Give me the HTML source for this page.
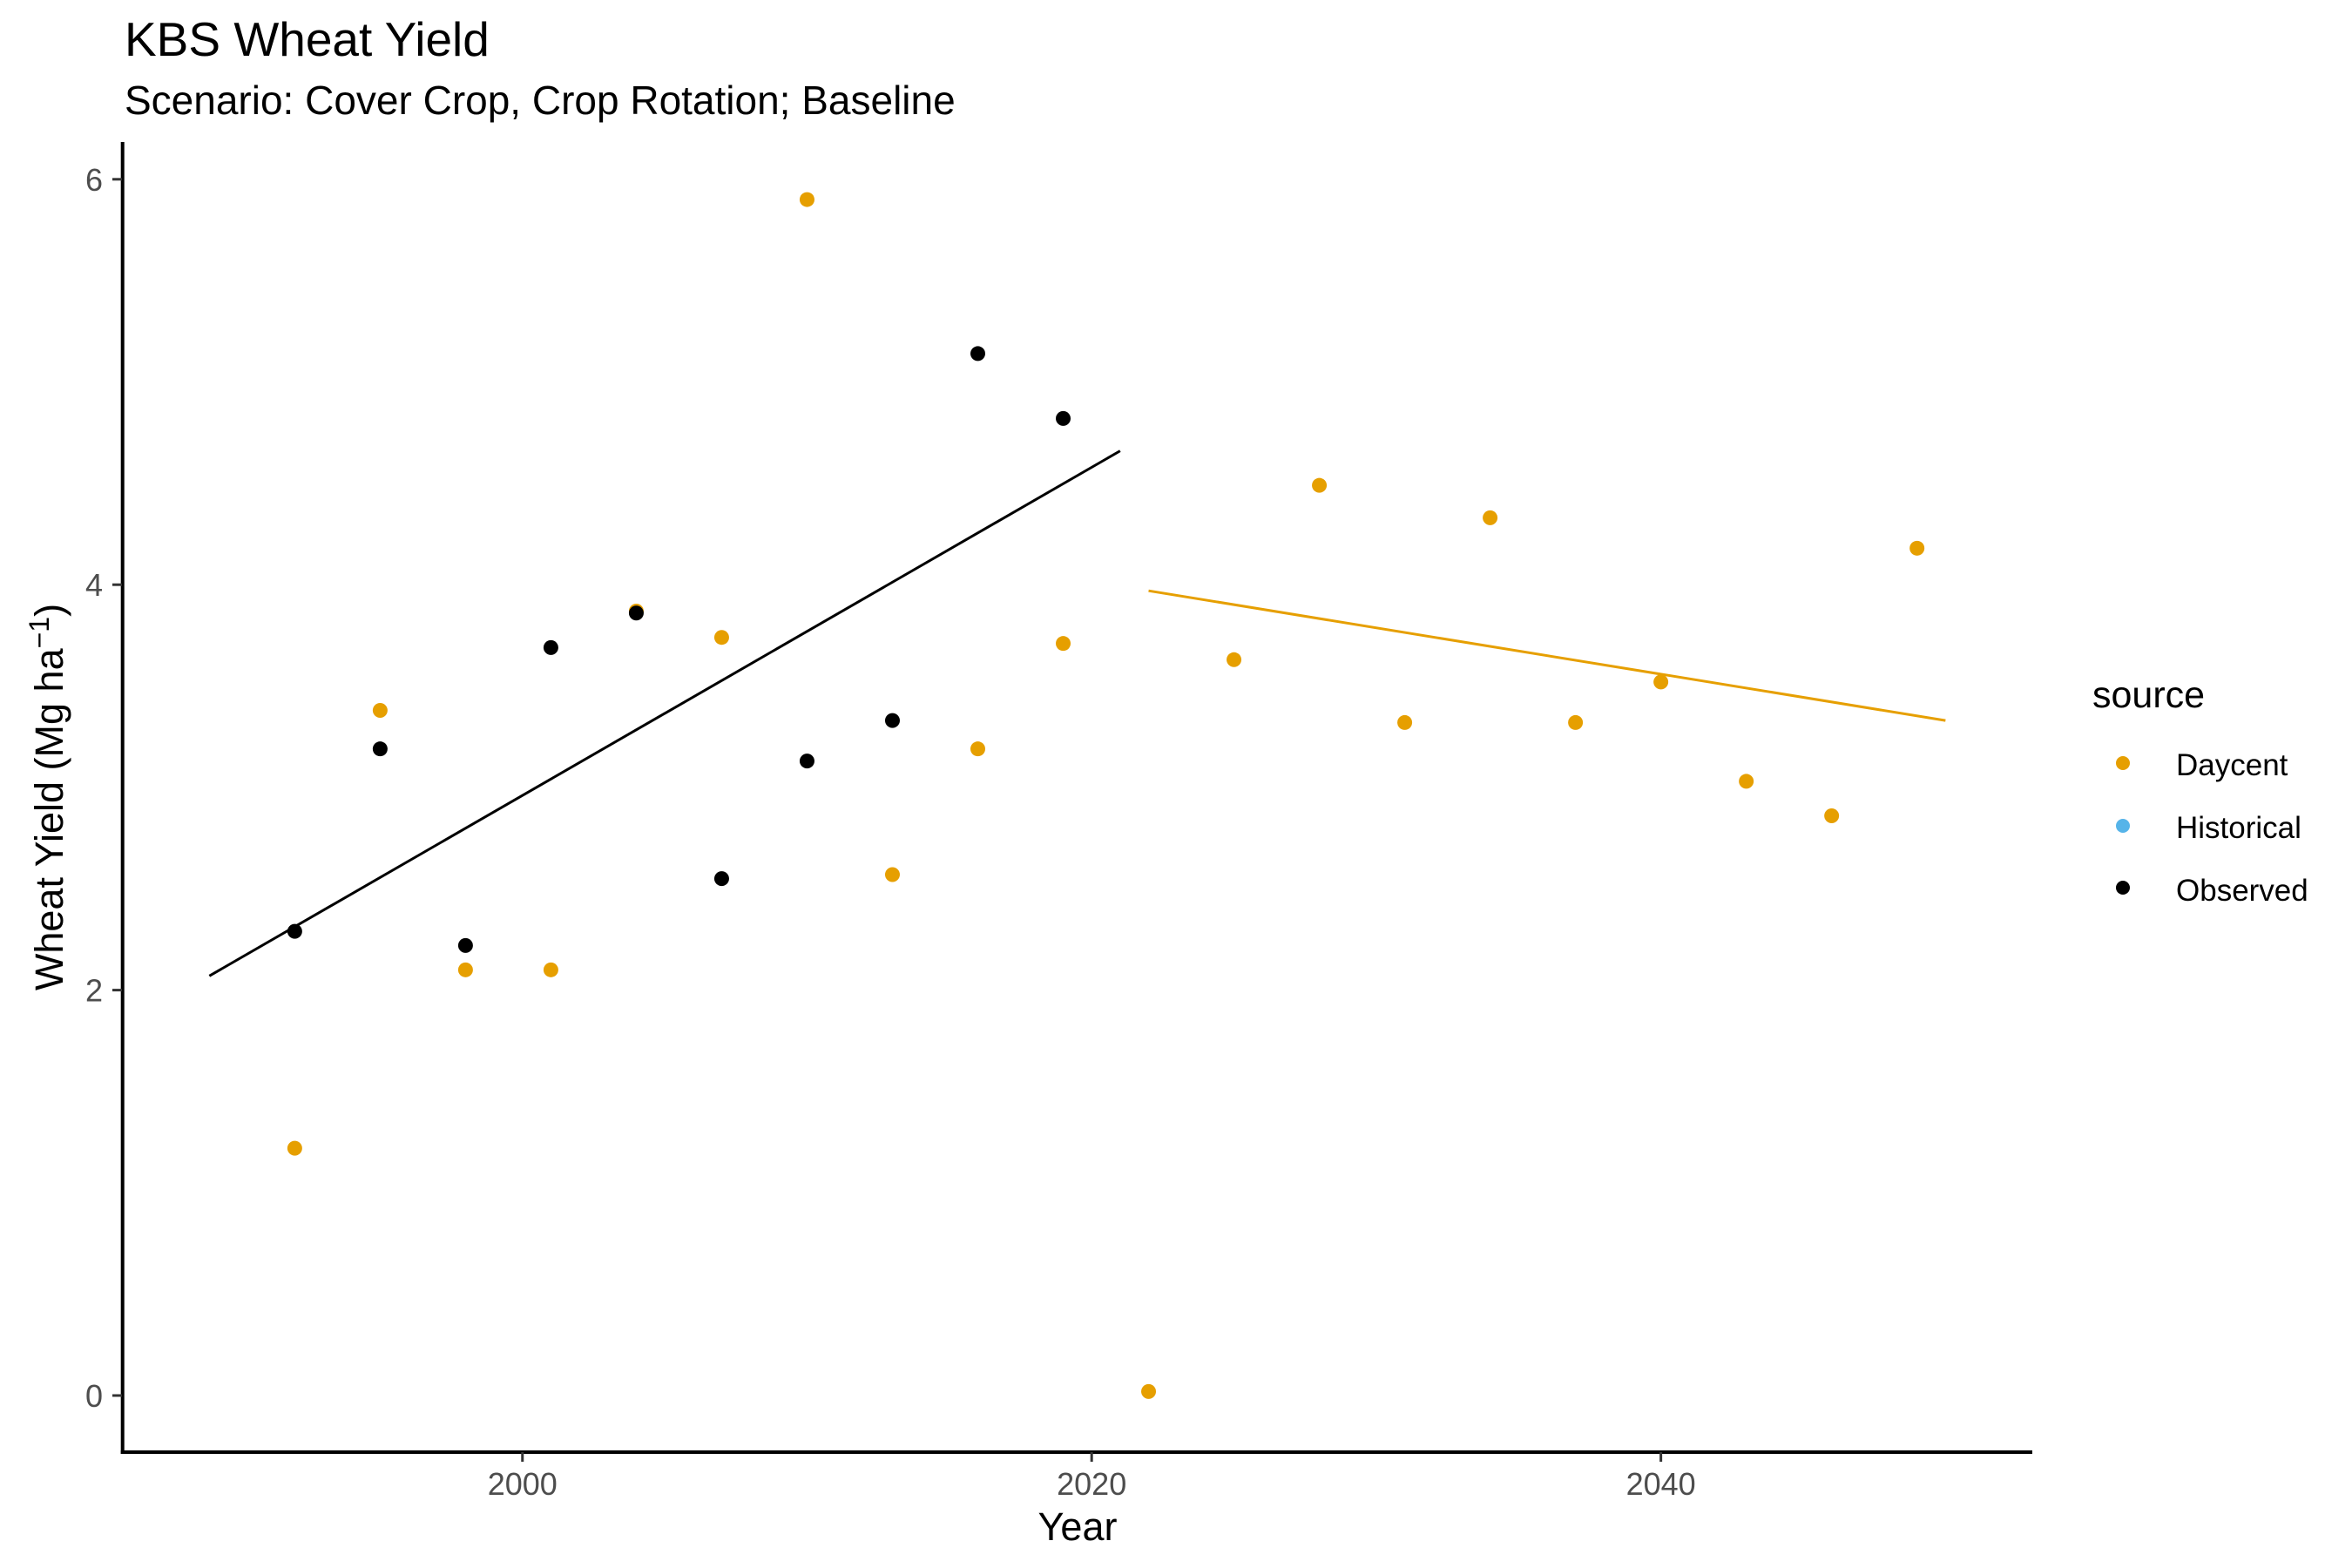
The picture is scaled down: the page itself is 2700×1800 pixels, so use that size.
<!DOCTYPE html>
<html><head><meta charset="utf-8"><style>
html,body{margin:0;padding:0;background:#fff;}
svg{display:block;font-family:"Liberation Sans",Arial,sans-serif;}
</style></head><body>
<svg id="chart" width="2700" height="1800" viewBox="0 0 2700 1800" xmlns="http://www.w3.org/2000/svg">
<rect width="2700" height="1800" fill="#fff"/>
<text x="143" y="64" font-size="55" fill="#000">KBS Wheat Yield</text>
<text x="143" y="131" font-size="46" fill="#000">Scenario: Cover Crop, Crop Rotation; Baseline</text>
<g id="marks"></g>
<line x1="140.7" y1="163" x2="140.7" y2="1669" stroke="#000" stroke-width="4"/>
<line x1="138.7" y1="1667" x2="2333" y2="1667" stroke="#000" stroke-width="4"/>
<g id="axes"></g>
<text x="1237" y="1768" font-size="45" text-anchor="middle" fill="#000">Year</text>
<text transform="translate(72,915) rotate(-90)" font-size="45" text-anchor="middle" fill="#000">Wheat Yield (Mg ha<tspan dy="-16" font-size="32">−1</tspan><tspan dy="16">)</tspan></text>
<g>
<text x="2402" y="812" font-size="43" fill="#000">source</text>
<circle cx="2437" cy="876" r="8" fill="#E69F00"/>
<text x="2498" y="890" font-size="35" fill="#000">Daycent</text>
<circle cx="2437" cy="948" r="8" fill="#56B4E9"/>
<text x="2498" y="962" font-size="35" fill="#000">Historical</text>
<circle cx="2437" cy="1019" r="8" fill="#000"/>
<text x="2498" y="1034" font-size="35" fill="#000">Observed</text>
</g>
</svg>
<script>
const daycentYears = [1992,1995,1998,2001,2004,2007,2010,2013,2016,2019,2022,2025,2028,2031,2034,2037,2040,2043,2046,2049];
const daycentYield = [1.22,3.38,2.10,2.10,3.87,3.74,5.90,2.57,3.19,3.71,0.02,3.63,4.49,3.32,4.33,3.32,3.52,3.03,2.86,4.18];
const observedYears = [1992,1995,1998,2001,2004,2007,2010,2013,2016,2019];
const observedYield = [2.29,3.19,2.22,3.69,3.86,2.55,3.13,3.33,5.14,4.82];
const obsTrendYears = [1989,2021];
const obsTrendYield = [2.07,4.66];
const dayTrendYears = [2022,2050];
const dayTrendYield = [3.97,3.33];
const xTicks = [2000,2020,2040];
const yTicks = [0,2,4,6];

const X0=140.7, X1=2333, XMIN=1985.95, XMAX=2053.05;
const Y0=1602, YPER=232.7;
function xs(v){return X0+(v-XMIN)/(XMAX-XMIN)*(X1-X0);}
function ys(v){return Y0-v*YPER;}
const NS="http://www.w3.org/2000/svg";
const marks=document.getElementById('marks');
const axes=document.getElementById('axes');
function mk(tag,attrs,parent){const e=document.createElementNS(NS,tag);for(const k in attrs)e.setAttribute(k,attrs[k]);parent.appendChild(e);return e;}

let l1=mk('line',{x1:xs(obsTrendYears[0]),y1:ys(obsTrendYield[0]),x2:xs(obsTrendYears[1]),y2:ys(obsTrendYield[1]),stroke:'#000','stroke-width':3},marks);


let l2=mk('line',{x1:xs(dayTrendYears[0]),y1:ys(dayTrendYield[0]),x2:xs(dayTrendYears[1]),y2:ys(dayTrendYield[1]),stroke:'#E69F00','stroke-width':3},marks);



daycentYears.forEach((yr,i)=>{
  const c=mk('circle',{cx:xs(yr),cy:ys(daycentYield[i]),r:8.5,fill:'#E69F00'},marks);
  
  
});
observedYears.forEach((yr,i)=>{
  const c=mk('circle',{cx:xs(yr),cy:ys(observedYield[i]),r:8.5,fill:'#000'},marks);
  
  
});
xTicks.forEach(t=>{
  const tk=mk('line',{x1:xs(t),y1:1667,x2:xs(t),y2:1678,stroke:'#333','stroke-width':3},axes);
  
  
  const tx=mk('text',{x:xs(t),y:1716,'font-size':36,'text-anchor':'middle',fill:'#4D4D4D'},axes);
  tx.textContent=t;
  
  
});
yTicks.forEach(t=>{
  const tk=mk('line',{x1:129,y1:ys(t),x2:140,y2:ys(t),stroke:'#333','stroke-width':3},axes);
  
  
  const tx=mk('text',{x:118,y:ys(t)+13,'font-size':36,'text-anchor':'end',fill:'#4D4D4D'},axes);
  tx.textContent=t;
  
  
});
</script>
</body></html>
